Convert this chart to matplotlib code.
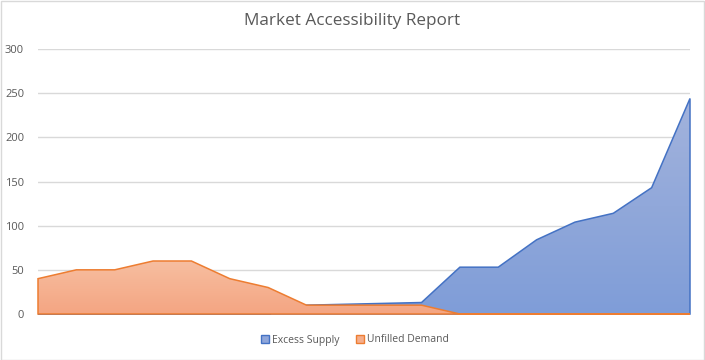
import matplotlib
matplotlib.use("Agg")
import matplotlib.pyplot as plt
import numpy as np
from matplotlib.patches import Rectangle, Polygon
from matplotlib.colors import LinearSegmentedColormap

title = "Market Accessibility Report"
series_names = ["Excess Supply", "Unfilled Demand"]
excess_supply = [0, 0, 0, 0, 0, 0, 0, 10, 11, 12, 13, 53, 53, 84, 104, 114, 143, 244]
unfilled_demand = [40, 50, 50, 60, 60, 40, 30, 10, 10, 10, 10, 0, 0, 0, 0, 0, 0, 0]
y_ticks = [0, 50, 100, 150, 200, 250, 300]

plt.rcParams['font.family'] = ['Open Sans', 'DejaVu Sans']

W, H = 705, 360
fig = plt.figure(figsize=(W / 100, H / 100), dpi=100)
fig.patch.set_facecolor("white")
fig.add_artist(Rectangle((0.5 / W, 0.5 / H), 1 - 1.5 / W, 1 - 1.5 / H, transform=fig.transFigure,
                         fill=False, edgecolor="#d9d9d9", linewidth=1))

ax = fig.add_axes([38 / W, 1 - 314 / H, (690 - 38) / W, (314 - 49) / H])
x = np.arange(len(excess_supply))
ax.set_xlim(0, len(x) - 1)
ax.set_ylim(0, 300)

def gradient_area(ax, xs, ys, top_color, bottom_color, line_color, z):
    verts = [(xs[0], 0)] + list(zip(xs, ys)) + [(xs[-1], 0)]
    poly = Polygon(verts, closed=True, facecolor="none", edgecolor="none", transform=ax.transData)
    ax.add_patch(poly)
    cmap = LinearSegmentedColormap.from_list("g", [bottom_color, top_color])
    grad = np.linspace(0, 1, 256).reshape(-1, 1)
    ymax = max(ys)
    im = ax.imshow(grad, extent=[xs[0], xs[-1], 0, ymax], origin="lower", aspect="auto",
                   cmap=cmap, zorder=z)
    im.set_clip_path(poly)
    outline = Polygon(verts, closed=True, facecolor="none", edgecolor=line_color,
                      linewidth=1.1, zorder=z + 0.1, clip_on=False, joinstyle="miter")
    ax.add_patch(outline)

gradient_area(ax, x, excess_supply, "#a3b3dc", "#7f9dd8", "#4472c4", 2)
gradient_area(ax, x, unfilled_demand, "#f7bea0", "#f4a582", "#ed7d31", 3)

ax.set_xlim(0, len(x) - 1)
ax.set_ylim(0, 300)
ax.set_yticks(y_ticks)
ax.set_yticklabels([str(v) for v in y_ticks], color="#595959", fontsize=8)
ax.tick_params(axis="y", length=0, pad=10)
ax.set_xticks([])
ax.grid(axis="y", color="#d9d9d9", linewidth=1, zorder=0)
ax.set_axisbelow(True)
for s in ax.spines.values():
    s.set_visible(False)

fig.text(352 / W, 1 - 21 / H, title, ha="center", va="center", fontsize=12.3, color="#595959")

handles = [Rectangle((0, 0), 1, 1, facecolor="#8fa6da", edgecolor="#4472c4", linewidth=1),
           Rectangle((0, 0), 1, 1, facecolor="#f5ae8c", edgecolor="#ed7d31", linewidth=1)]
leg = fig.legend(handles, series_names, loc="center", bbox_to_anchor=(355 / W, 1 - 340 / H),
                 ncol=2, frameon=False, fontsize=7.5, handlelength=0.8, handleheight=0.8,
                 handletextpad=0.3, columnspacing=1.5)
for t in leg.get_texts():
    t.set_color("#595959")

fig.savefig("out.png", dpi=100, facecolor="white")
